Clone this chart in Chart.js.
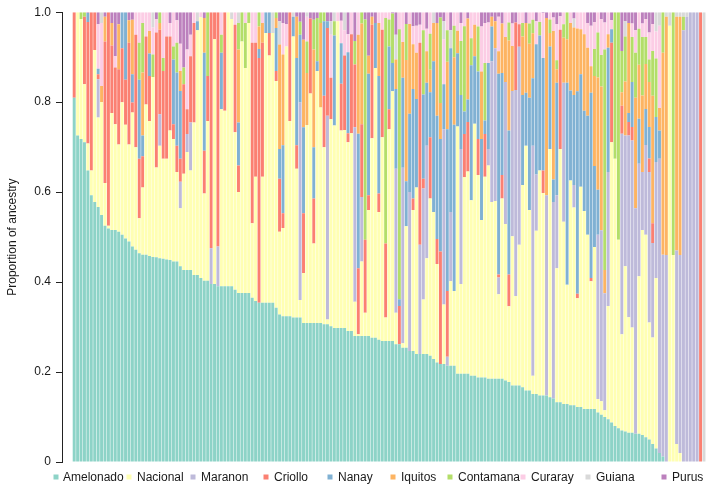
<!DOCTYPE html>
<html>
<head>
<meta charset="utf-8">
<script src="https://cdn.jsdelivr.net/npm/chart.js@4/dist/chart.umd.min.js"></script>
<style>
html,body{margin:0;padding:0;background:#ffffff;}
#wrap{width:708px;height:487px;position:relative;}
</style>
</head>
<body>
<div id="wrap"><canvas id="c" width="708" height="487"></canvas></div>
<script>
// ---------------- DATA ----------------
const SERIES_NAMES = ['Amelonado','Nacional','Maranon','Criollo','Nanay','Iquitos','Contamana','Curaray','Guiana','Purus'];

const AMELONADO = [
.81,.726,.718,.711,.648,.593,.578,.567,.549,.525,
.519,.516,.516,.512,.505,.497,.49,.479,.472,.464,
.461,.461,.458,.456,.455,.453,.452,.45,.449,.446,
.446,.435,.427,.427,.427,.416,.416,.409,.403,.403,
.396,.396,.391,.391,.391,.391,.391,.383,.376,.376,
.376,.376,.365,.358,.354,.354,.354,.354,.354,.343,
.328,.324,.324,.324,.321,.321,.321,.309,.309,.309,
.309,.309,.309,.306,.306,.302,.298,.298,.298,.298,
.291,.291,.28,.28,.28,.28,.28,.276,.276,.272,
.269,.269,.269,.269,.262,.262,.254,.254,.247,.247,
.24,.24,.24,.24,.236,.229,.221,.218,.218,.214,
.214,.214,.196,.196,.196,.196,.192,.192,.188,.188,
.188,.185,.185,.185,.185,.185,.181,.178,.17,.17,
.17,.166,.159,.159,.151,.151,.148,.148,.148,.144,
.141,.133,.133,.129,.129,.126,.126,.122,.122,.118,
.118,.118,.118,.11,.105,.1,.095,.088,.08,.075,
.07,.068,.065,.065,.063,.063,.06,.055,.05,.04,
.03,.02,.012,0,0,0,0,0,0,0,
0,0,0,0,0];

const NACIONAL = [
0,.274,.267,.129,.06,.055,.338,.199,.251,.095,
.006,.26,.235,.194,.295,.253,.216,.298,.228,.078,
.149,.334,.3,.4,.2,.25,.222,.224,.288,.272,
.199,.129,.214,.262,.221,.339,.544,.58,.194,.355,
0,.544,0,.393,.39,.609,.594,.35,.224,.559,
.5,.6,.166,.276,0,.28,.6,.55,.6,.504,
.184,.196,.6,.434,.625,.331,.039,.111,.44,.51,
.177,.56,.479,.394,.011,.46,.45,.682,.439,.44,
.42,.44,.076,.004,.166,.052,.28,.444,.6,.284,
.453,.052,.471,.555,.07,0,.01,.27,0,.313,
.37,0,.121,.213,.35,.327,.219,0,.132,0,
.188,.166,.55,.2,.437,.45,.39,.56,.45,.35,
.446,.474,.393,.395,.188,.401,.348,.168,.332,.199,
.313,.45,.544,.401,.041,.363,.5,.45,0,.552,
0,.298,.563,.405,.265,.5,.44,.242,.49,.44,
.387,.284,.36,.03,.03,.015,.252,.623,.594,.419,
.214,.367,.257,.234,0,.35,.456,.45,.26,.237,
.379,0,0,0,.97,.46,.04,.02,0,0,
0,0,0,0,0];

const MARANON = [
0,0,0,0,0,0,0,.085,0,0,
0,0,0,0,0,0,0,0,0,0,
0,0,0,0,0,.07,0,0,0,0,
0,.059,0,.04,.107,0,0,0,0,0,
.079,0,.088,0,0,0,0,0,0,0,
0,0,0,0,0,0,0,0,0,0,
0,0,0,0,0,0,.439,0,0,0,
0,0,0,0,.453,0,0,0,0,0,
0,0,.388,0,.143,0,0,0,0,0,
0,0,0,0,.32,0,.39,0,.353,0,
0,.243,.247,.25,0,0,0,0,.39,.02,
.154,0,0,.3,0,0,0,0,0,0,
0,.037,.313,.34,.037,0,.316,0,.323,.458,
.44,0,0,0,.511,.125,0,0,.445,0,
.437,.162,0,.309,0,0,.05,0,0,0,
0,0,0,.365,.38,.26,.298,0,0,0,
.446,.291,.404,.416,.501,.25,.129,.2,.335,.21,
.258,.654,.449,.46,0,0,.43,.44,.96,.99,
1,1,1,0,0];

const CRIOLLO = [
.19,0,0,.15,.27,.352,.084,.011,0,.315,
.475,.15,.126,.167,.12,.1,.226,.022,.25,.132,
.07,.151,.1,0,.3,.188,.195,.272,.209,.033,
.058,.051,.199,.055,.147,.221,0,0,.095,.1,
.525,.06,.521,0,.219,0,0,.239,.059,0,
0,0,.401,.298,.544,.298,0,.05,0,.022,
.118,.033,0,.242,0,.052,0,.133,0,.167,
.1,0,0,.114,.195,.092,0,0,.104,.166,
.02,.22,.14,.147,.162,.162,.033,.252,0,.041,
.239,.165,.044,0,0,.085,0,0,0,.026,
0,.449,.022,0,.136,0,.056,.25,0,.146,
0,0,0,0,.096,.11,0,0,.08,0,
.095,0,0,0,.007,.052,0,.071,0,.15,
.05,0,0,0,0,0,0,.05,0,0,
0,0,.265,0,0,0,0,.01,0,0,
0,.007,0,0,0,0,0,.221,0,0,
.062,0,.03,.03,0,0,0,0,.03,.044,
0,0,0,0,0,0,0,0,0,0,
0,0,0,1,0];

const NANAY = [
0,0,0,0,.02,0,0,.012,0,0,
0,0,0,0,.08,.15,0,.063,0,.176,
.046,0,.05,0,0,0,0,0,0,.144,
.163,.151,0,0,0,0,.02,0,.218,0,
0,0,0,.126,0,0,0,0,.096,0,
0,0,0,0,.02,0,.046,.046,0,.096,
.066,.151,0,0,.044,.194,.151,.191,0,0,
.114,.022,0,.166,.015,0,.2,0,.09,0,
.18,0,0,.299,0,0,.27,0,.1,.261,
0,0,.14,.063,.177,.015,.2,.1,.174,.243,
.197,0,.187,.14,.1,.335,.274,.25,.1,.36,
.364,.37,.163,.12,.05,.05,.3,.15,.15,.18,
.03,.191,.077,0,.446,.227,0,.32,0,0,
0,.2,.118,.25,.15,.29,.3,.25,0,.228,
.05,.25,0,0,.449,.2,.2,.45,.25,.223,
.265,.412,.18,.1,0,0,.276,.03,0,0,
0,0,.02,.1,0,.1,0,.08,.07,0,
.1,.063,0,0,0,0,0,0,0,0,
0,0,0,0,0];

const IQUITOS = [
0,0,0,0,0,0,0,0,.036,.055,
0,.05,0,.1,0,0,.05,.121,0,0,
.14,0,.05,0,0,.015,0,0,0,0,
0,.044,0,0,0,0,0,0,.077,0,
0,0,0,0,0,0,0,0,.162,0,
0,0,0,0,.05,.044,0,0,0,.022,
.232,.202,0,0,0,.092,0,.195,.116,0,
.217,0,.188,0,0,0,0,0,0,0,
0,0,0,.22,.224,0,.04,.018,0,.118,
0,0,0,0,.066,0,.08,.27,.2,.1,
.103,0,0,.07,.05,.085,.206,.08,0,.15,
0,.15,.05,0,0,.18,0,.07,0,.15,
0,0,.022,.06,.05,.11,.1,.2,.1,0,
0,.13,.155,.12,.1,0,0,0,.394,.03,
.33,.03,0,.1,.097,.15,.15,.14,.1,.17,
.151,.059,.2,.25,.32,.052,.03,0,0,0,
.03,.12,.2,0,.246,.12,.17,.1,.1,.283,
0,.05,.449,.53,0,0,.52,.53,0,0,
0,0,0,0,0];

const CONTAMANA = [
0,0,.015,.01,0,0,0,0,0,0,
0,0,0,0,0,0,0,0,0,.082,
.11,0,0,.05,0,.024,.029,0,0,.029,
.066,0,.037,0,0,0,0,0,0,.142,
0,0,0,.04,0,0,0,0,.059,.065,
.1,.024,0,0,.032,0,0,0,0,.013,
0,0,0,0,0,0,.029,0,.07,0,
.066,.096,.024,.02,0,0,.032,0,0,0,
0,0,.052,0,.025,.49,0,0,0,0,
0,.501,.06,.11,0,.6,0,.08,0,0,
0,0,.143,0,.08,0,0,.19,0,.07,
0,.07,0,.12,.19,0,.06,0,.1,0,
.128,0,0,0,0,0,0,.04,0,0,
0,.03,0,.045,.03,0,.03,0,0,.03,
0,.02,0,.03,.06,0,0,0,0,0,
0,0,.06,.1,.07,.49,0,0,.326,.506,
.092,.1,0,.1,.1,.08,.13,.06,.05,.1,
.13,0,.09,0,0,.54,0,0,.03,0,
0,0,0,0,0];

const CURARAY = [
0,0,0,0,0,0,0,.099,.14,0,
0,0,.025,0,0,0,0,0,.05,.068,
.024,.054,.042,.06,.03,0,.102,.054,.03,.076,
.05,.061,0,.133,.048,.024,0,.011,0,0,
0,0,0,.05,0,0,0,.028,0,0,
.024,0,.068,.068,0,.024,0,0,0,0,
0,.07,.05,0,0,0,0,0,.055,0,
0,0,0,0,0,.096,0,.02,.05,.056,
.04,.049,0,.05,0,0,0,0,0,.024,
.039,.013,.016,0,0,.038,.066,0,.026,.04,
.06,.04,.04,.05,.048,0,0,0,.1,.04,
0,.03,.041,.04,.031,0,.058,.028,.032,.1,
.089,.09,0,0,.077,0,.055,.023,.05,0,
.027,.024,0,.025,.017,.051,.022,.1,0,.016,
.03,.08,.03,.027,0,.024,0,.036,.038,.049,
.055,.09,.06,.045,.08,.06,.049,.02,0,0,
0,0,0,.03,.05,.037,.03,.04,.06,.06,
.06,.183,0,0,0,0,0,0,0,0,
0,0,0,0,0];

const GUIANA = [
0,0,0,0,0,0,0,0,.024,0,
0,0,0,0,0,0,0,0,0,0,
0,0,0,.034,0,0,0,0,0,0,
0,0,0,0,0,0,.02,0,0,0,
0,0,0,0,0,0,.015,0,.024,0,
0,0,0,0,0,0,0,0,.046,0,
.052,0,0,0,.01,0,0,0,.01,0,
0,0,0,0,0,.03,.02,0,0,.04,
0,0,0,0,0,0,0,0,0,0,
0,0,0,0,.055,0,0,0,0,0,
0,0,0,0,0,.024,0,0,.04,0,
.04,0,0,0,0,0,0,0,0,0,
0,0,0,0,0,0,0,0,0,0,
0,0,0,0,0,0,0,0,0,0,
0,0,0,0,0,0,.02,0,0,0,
0,0,0,0,0,0,0,0,0,0,
0,.034,0,0,0,0,0,0,0,0,
.043,.03,0,.01,.03,0,.01,.01,.01,.01,
0,0,0,0,1];

const PURUS = [
0,0,0,0,.002,0,0,.027,0,.01,
0,.024,.098,.027,0,0,.018,.017,0,0,
0,0,0,0,.015,0,0,0,.024,0,
.018,.07,.123,.083,.05,0,0,0,.013,0,
0,0,0,0,0,0,0,0,0,0,
0,0,0,0,0,0,0,0,0,0,
.02,.024,.026,0,0,.01,.021,.061,0,.014,
.017,.013,0,0,.02,.02,0,0,.019,0,
.049,0,.064,0,0,.016,.097,.01,.024,0,
0,0,0,.003,.05,0,0,.026,0,.031,
.03,.028,0,.037,0,0,.024,.012,.02,0,
.04,0,0,.024,0,.014,0,0,0,.032,
.024,.023,.01,.02,.01,.025,0,0,.025,.023,
0,0,.024,0,0,.02,0,.002,.013,0,
.012,.027,.009,0,0,0,.014,0,0,0,
.024,.03,.022,0,.015,.023,0,.018,0,0,
.086,.02,.024,.025,.04,0,.025,.015,.045,.026,
0,0,0,0,0,0,0,0,0,0,
0,0,0,0,0];

const Y_TICK_LABELS = ['0','0.2','0.4','0.6','0.8','1.0'];

// ---------------- STYLE / LAYOUT ----------------
const COLORS = ['#8DD3C7','#FFFFB3','#BEBADA','#FB8072','#80B1D3','#FDB462','#B3DE69','#FCCDE5','#D9D9D9','#BC80BD'];
const LEGEND_MARK_X = [56,129,193,266,330,393,450,523,588,664];
const LEGEND_TEXT_X = [63,137,201,274,338,401,458,531,596,672];
const LEGEND_Y = 477;
const FONT_FAMILY = '"Liberation Sans", Arial, Helvetica, sans-serif';
const TEXT_COLOR = '#1a1a1a';

const SERIES = [AMELONADO, NACIONAL, MARANON, CRIOLLO, NANAY, IQUITOS, CONTAMANA, CURARAY, GUIANA, PURUS];
const SAMPLE_INDEX = AMELONADO.map((_, i) => i);

const datasets = SERIES.map((vals, k) => ({
  label: SERIES_NAMES[k],
  data: vals,
  backgroundColor: COLORS[k],
  borderWidth: 0,
  categoryPercentage: 1.0,
  barPercentage: 0.86
}));

const legendPlugin = {
  id: 'fixedLegend',
  afterDraw(chart) {
    const ctx = chart.ctx;
    ctx.save();
    ctx.font = '12px ' + FONT_FAMILY;
    ctx.textBaseline = 'middle';
    ctx.textAlign = 'left';
    chart.data.datasets.forEach((ds, i) => {
      ctx.fillStyle = ds.backgroundColor;
      ctx.fillRect(LEGEND_MARK_X[i] - 2.5, LEGEND_Y - 2.5, 5, 5);
      ctx.fillStyle = TEXT_COLOR;
      ctx.fillText(ds.label, LEGEND_TEXT_X[i], LEGEND_Y + 0.5);
    });
    ctx.restore();
  }
};

new Chart(document.getElementById('c'), {
  type: 'bar',
  data: { labels: SAMPLE_INDEX, datasets },
  options: {
    responsive: false,
    animation: false,
    devicePixelRatio: 1,
    layout: { padding: { left: 0, right: 1, top: 9, bottom: 25 } },
    plugins: { legend: { display: false }, tooltip: { enabled: false } },
    scales: {
      x: {
        type: 'linear',
        stacked: true,
        offset: false,
        min: -3.56,
        max: SAMPLE_INDEX.length - 1 + 0.88,
        display: false,
        grid: { offset: false }
      },
      y: {
        stacked: true,
        min: 0,
        max: 1,
        afterFit(scale) { scale.width = 62; },
        border: { display: true, color: '#222', width: 1 },
        grid: { drawOnChartArea: false, drawTicks: true, tickLength: 6, color: '#222', lineWidth: 1 },
        ticks: {
          stepSize: 0.2,
          padding: 5,
          color: TEXT_COLOR,
          font: { family: FONT_FAMILY, size: 12 },
          callback: (v, i) => Y_TICK_LABELS[i]
        },
        title: {
          display: true,
          text: 'Proportion of ancestry',
          color: TEXT_COLOR,
          font: { family: FONT_FAMILY, size: 12 },
          padding: { top: 5, bottom: 0 }
        }
      }
    }
  },
  plugins: [legendPlugin]
});
</script>
</body>
</html>
